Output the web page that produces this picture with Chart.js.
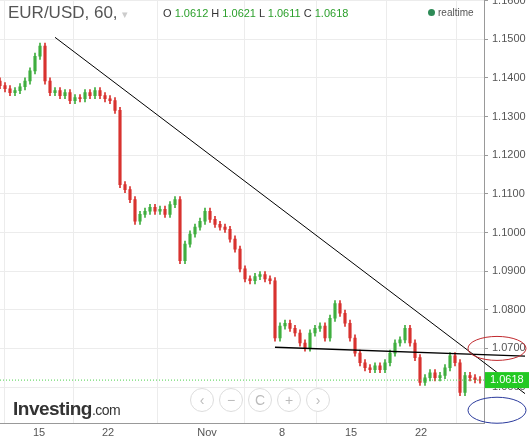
<!DOCTYPE html>
<html><head><meta charset="utf-8">
<script src="https://cdn.jsdelivr.net/npm/chart.js@4"></script>
<style>
body{margin:0;background:#fff;font-family:Arial,"Liberation Sans",sans-serif}
#wrap{position:relative;width:529px;height:447px;overflow:hidden}
#Chart{position:absolute;left:0;top:-10px}
#title{position:absolute;left:8px;top:3px;font-size:17px;color:#555}
#ohlc{position:absolute;left:163px;top:7px;font-size:11px;color:#333}
#ohlc b{font-weight:normal;color:#2ca02c}
#rt{position:absolute;left:428px;top:7px;font-size:10px;color:#555}
#rt i{display:inline-block;width:7px;height:7px;border-radius:50%;background:#2e8b57;margin-right:3px}
#logo{position:absolute;left:13px;top:398px;font-size:19px;font-weight:bold;color:#333;letter-spacing:-0.5px}
#logo span{font-weight:normal;font-size:14px}
#nav{position:absolute;left:190px;top:388px}
#nav div{display:inline-block;width:22px;height:22px;border:1px solid #ddd;border-radius:50%;margin-right:5px;text-align:center;line-height:22px;color:#bbb;font-size:14px;background:#fff}
</style></head><body>
<div id="wrap"><canvas id="Chart" width="529" height="457"></canvas>
<div id="title">EUR/USD, 60, <span style="color:#ccc;font-size:11px">▾</span></div>
<div id="ohlc">O <b>1.0612</b> H <b>1.0621</b> L <b>1.0611</b> C <b>1.0618</b></div>
<div id="rt"><i></i>realtime</div>
<div id="nav"><div>‹</div><div>−</div><div>C</div><div>+</div><div>›</div></div>
<div id="logo">Investing<span>.com</span></div>
</div>
<script>
// closing prices, one per half-day step
const closes = [1.1380,1.1372,1.1362,1.1367,1.1377,1.1392,1.1418,1.1456,1.1482,1.1392,
  1.1362,1.1367,1.1354,1.1362,1.1341,1.1349,1.1346,1.1362,1.1354,1.1367,
  1.1354,1.1346,1.1341,1.1316,1.1124,1.1111,1.1085,1.1029,1.1047,1.1055,
  1.1065,1.1055,1.1060,1.1047,1.1072,1.1085,1.0927,1.0970,1.0996,1.1014,
  1.1029,1.1055,1.1034,1.1021,1.1014,1.1008,1.0983,1.0957,1.0906,1.0880,
  1.0875,1.0886,1.0891,1.0880,1.0875,1.0727,1.0758,1.0765,1.0752,1.0740,
  1.0714,1.0701,1.0740,1.0752,1.0758,1.0727,1.0778,1.0816,1.0791,1.0765,
  1.0727,1.0688,1.0663,1.0650,1.0645,1.0655,1.0645,1.0663,1.0688,1.0714,
  1.0722,1.0752,1.0714,1.0676,1.0612,1.0624,1.0637,1.0624,1.0630,1.0650,
  1.0681,1.0663,1.0586,1.0630,1.0624,1.0619,1.0618];
const firstOpen = 1.1392;
const tickPos = [7.8, 21.6, 41.4, 56.4, 70.2, 84.2];
const tickLabels = ['15', '22', 'Nov', '8', '15', '22'];
const priceTicks = [1.06, 1.07, 1.08, 1.09, 1.10, 1.11, 1.12, 1.13, 1.14, 1.15, 1.16];
const lastPrice = 1.0618;
const trendLine = [[11, 1.1505], [105, 1.0583]];
const supportLine = [[55, 1.0703], [105, 1.0680]];

const bodies = [], wicks = [], colors = [];
closes.forEach((c, i) => {
  const o = i ? closes[i - 1] : firstOpen;
  bodies.push({x: i, y: [o, c === o ? c + 0.0002 : c]});
  wicks.push({x: i, y: [Math.min(o, c) - 0.0008, Math.max(o, c) + 0.0008]});
  colors.push(c >= o ? '#3fae3f' : '#d8322f');
});

const overlay = {
  id: 'overlay',
  afterDraw(chart) {
    const {ctx, scales: {x, y}, chartArea} = chart;
    ctx.save();
    // dotted last-price line
    const py = y.getPixelForValue(lastPrice);
    ctx.strokeStyle = '#4cd04c'; ctx.setLineDash([1, 2]); ctx.lineWidth = 1;
    ctx.beginPath(); ctx.moveTo(chartArea.left, py); ctx.lineTo(chartArea.right, py); ctx.stroke();
    ctx.setLineDash([]);
    // drawn lines
    ctx.strokeStyle = '#000';
    [[trendLine, 1], [supportLine, 1.4]].forEach(([l, w]) => {
      ctx.lineWidth = w; ctx.beginPath();
      ctx.moveTo(x.getPixelForValue(l[0][0]), y.getPixelForValue(l[0][1]));
      ctx.lineTo(x.getPixelForValue(l[1][0]), y.getPixelForValue(l[1][1]));
      ctx.stroke();
    });
    // ellipses
    ctx.lineWidth = 1;
    ctx.strokeStyle = '#c0282d';
    ctx.beginPath(); ctx.ellipse(497, y.getPixelForValue(1.0700), 29, 12, 0, 0, 2 * Math.PI); ctx.stroke();
    ctx.strokeStyle = '#2a3a9c';
    ctx.beginPath(); ctx.ellipse(497, y.getPixelForValue(1.0540), 29, 13, 0, 0, 2 * Math.PI); ctx.stroke();
    // price tag
    ctx.fillStyle = '#22c922';
    ctx.fillRect(chartArea.right + 1, py - 8, 44, 16);
    ctx.fillStyle = '#fff'; ctx.font = '11px Arial'; ctx.textBaseline = 'middle';
    ctx.fillText(lastPrice.toFixed(4), chartArea.right + 6, py);
    ctx.restore();
  }
};

new Chart(document.getElementById('Chart'), {
  type: 'bar',
  data: {datasets: [
    {data: bodies, backgroundColor: colors, barThickness: 2.5, grouped: false, order: 1},
    {data: wicks, backgroundColor: colors, barThickness: 1, grouped: false, order: 2}
  ]},
  options: {
    responsive: false, animation: false,
    plugins: {legend: {display: false}, tooltip: {enabled: false}},
    scales: {
      x: {type: 'linear', min: 0, max: 96.8, offset: false,
        afterBuildTicks: s => { s.ticks = tickPos.map(v => ({value: v})); },
        afterFit: s => { s.height = 24; },
        ticks: {callback: (v, i) => tickLabels[i], color: '#555', font: {size: 11, family: 'Arial'}, maxRotation: 0, autoSkip: false},
        grid: {color: '#ececec', drawTicks: false}, border: {color: '#999'}},
      y: {position: 'right', min: 1.0507, max: 1.1600,
        afterBuildTicks: s => { s.ticks = priceTicks.map(v => ({value: v})); },
        afterFit: s => { s.width = 45; },
        ticks: {callback: v => v.toFixed(4), color: '#555', font: {size: 11, family: 'Arial'}, padding: 4},
        grid: {color: '#ececec', tickLength: 4, tickColor: '#999'}, border: {color: '#999'}}
    }
  },
  plugins: [overlay]
});
</script></body></html>
